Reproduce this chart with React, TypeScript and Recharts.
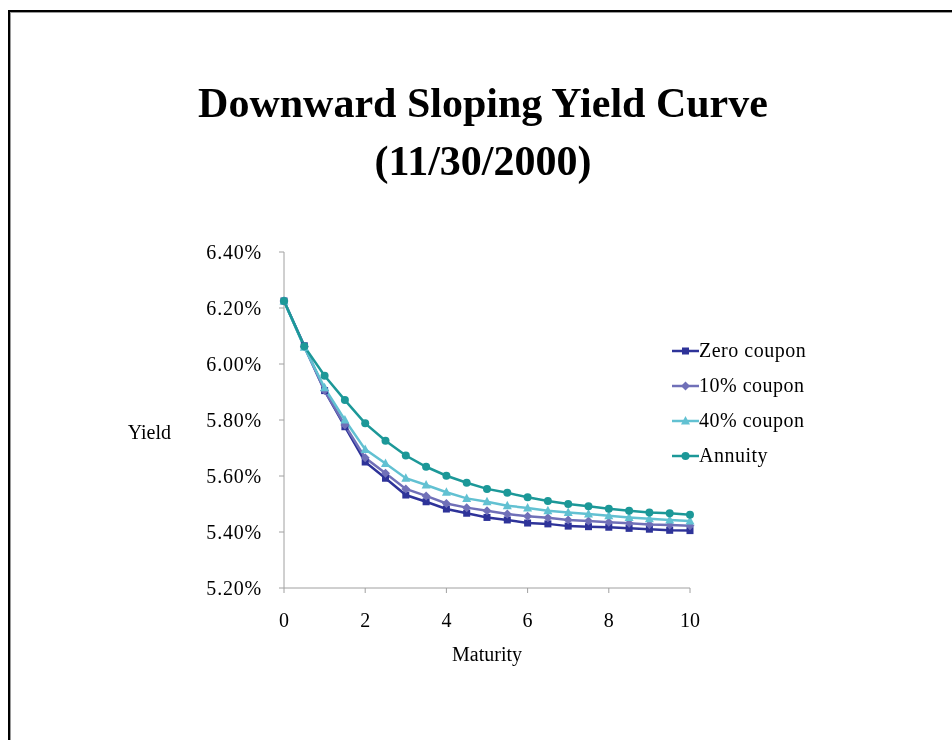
import React from "react";
import { LineChart, Line, XAxis, YAxis } from "recharts";

const maturity = [0, 0.5, 1, 1.5, 2, 2.5, 3, 3.5, 4, 4.5, 5, 5.5, 6, 6.5, 7, 7.5, 8, 8.5, 9, 9.5, 10];
const zeroCoupon = [6.225, 6.065, 5.905, 5.776, 5.65, 5.592, 5.532, 5.508, 5.482, 5.467, 5.452, 5.443, 5.432, 5.429, 5.421, 5.419, 5.417, 5.413, 5.41, 5.406, 5.405];
const tenCoupon = [6.225, 6.062, 5.905, 5.782, 5.665, 5.61, 5.554, 5.529, 5.502, 5.487, 5.476, 5.464, 5.456, 5.451, 5.443, 5.439, 5.435, 5.431, 5.427, 5.425, 5.422];
const fortyCoupon = [6.225, 6.06, 5.915, 5.8, 5.695, 5.645, 5.592, 5.568, 5.542, 5.52, 5.508, 5.494, 5.486, 5.476, 5.47, 5.464, 5.458, 5.452, 5.447, 5.443, 5.439];
const annuity = [6.225, 6.063, 5.958, 5.871, 5.788, 5.726, 5.673, 5.633, 5.601, 5.576, 5.554, 5.54, 5.524, 5.511, 5.5, 5.492, 5.483, 5.476, 5.47, 5.467, 5.462];

const yTicks = [5.2, 5.4, 5.6, 5.8, 6.0, 6.2, 6.4];
const xTicks = [0, 2, 4, 6, 8, 10];

const series = [
  { key: "zero", name: "Zero coupon", color: "#2e3399", shape: "square" },
  { key: "ten", name: "10% coupon", color: "#7070b8", shape: "diamond" },
  { key: "forty", name: "40% coupon", color: "#62c1d2", shape: "triangle" },
  { key: "annuity", name: "Annuity", color: "#1c9898", shape: "circle" },
];

const data = maturity.map((m, i) => ({
  m,
  zero: zeroCoupon[i],
  ten: tenCoupon[i],
  forty: fortyCoupon[i],
  annuity: annuity[i],
}));

const FONT = "'Liberation Serif', 'DejaVu Serif', serif";

function markerShape(shape: string, cx: number, cy: number, color: string) {
  if (shape === "square") {
    return <rect x={cx - 3.5} y={cy - 3.5} width={7} height={7} fill={color} />;
  }
  if (shape === "diamond") {
    return (
      <polygon
        points={`${cx},${cy - 4.5} ${cx + 4.5},${cy} ${cx},${cy + 4.5} ${cx - 4.5},${cy}`}
        fill={color}
      />
    );
  }
  if (shape === "triangle") {
    return (
      <polygon
        points={`${cx},${cy - 5} ${cx + 4.5},${cy + 3.5} ${cx - 4.5},${cy + 3.5}`}
        fill={color}
      />
    );
  }
  return <circle cx={cx} cy={cy} r={4} fill={color} />;
}

const makeDot = (shape: string, color: string) => (props: any) => {
  const { cx, cy, index } = props;
  if (cx == null || cy == null) return <g key={index} />;
  return <g key={index}>{markerShape(shape, cx, cy, color)}</g>;
};

const Legend = () => (
  <div style={{ position: "absolute", left: 664, top: 325, fontFamily: FONT, fontSize: 20, color: "#000" }}>
    {series.map((s) => (
      <div key={s.key} style={{ display: "flex", alignItems: "center", height: 35 }}>
        <svg width={27} height={12}>
          <line x1={0} y1={6} x2={27} y2={6} stroke={s.color} strokeWidth={2.5} />
          {markerShape(s.shape, 13.5, 6, s.color)}
        </svg>
        <span style={{ letterSpacing: 0.5 }}>{s.name}</span>
      </div>
    ))}
  </div>
);

export default function App() {
  return (
    <div style={{ position: "relative", width: 936, height: 724, fontFamily: FONT }}>
      <div
        style={{
          position: "fixed",
          left: 8,
          top: 10,
          right: -20,
          bottom: -20,
          borderTop: "2px solid #000",
          borderLeft: "2px solid #000",
        }}
      >
        <div
          style={{
            position: "absolute",
            left: 0,
            top: 0,
            right: 0,
            bottom: 0,
            borderTop: "1px solid #9a9a9a",
            borderLeft: "1px solid #9a9a9a",
          }}
        />
      </div>
      <div
        style={{
          position: "absolute",
          left: 0,
          top: 66,
          width: 950,
          textAlign: "center",
          fontSize: 42,
          fontWeight: "bold",
          lineHeight: "58px",
          color: "#000",
        }}
      >
        Downward Sloping Yield Curve
        <br />
        (11/30/2000)
      </div>
      <div style={{ position: "absolute", left: 0, top: 0 }}>
        <LineChart width={936} height={700} data={data} margin={{ top: 244, right: 254, bottom: 40, left: 196 }}>
          <XAxis
            dataKey="m"
            type="number"
            domain={[0, 10]}
            ticks={xTicks}
            stroke="#a0a0a0"
            tickSize={5}
            tickMargin={20}
            height={80}
            tick={{ fill: "#000", fontSize: 20, fontFamily: FONT }}
            label={{ value: "Maturity", position: "insideBottom", offset: 7, fill: "#000", fontSize: 20, fontFamily: FONT }}
          />
          <YAxis
            type="number"
            domain={[5.2, 6.4]}
            ticks={yTicks}
            stroke="#a0a0a0"
            tickSize={5}
            tickMargin={17}
            width={80}
            tickFormatter={(v: number) => v.toFixed(2) + "%"}
            tick={{ fill: "#000", fontSize: 20, fontFamily: FONT, letterSpacing: 0.8 }}
            label={{ value: "Yield", position: "left", offset: 33, dy: 12, fill: "#000", fontSize: 20, fontFamily: FONT }}
          />
          {series.map((s) => (
            <Line
              key={s.key}
              dataKey={s.key}
              name={s.name}
              type="linear"
              stroke={s.color}
              strokeWidth={2.5}
              dot={makeDot(s.shape, s.color)}
              activeDot={false}
              isAnimationActive={false}
            />
          ))}
        </LineChart>
      </div>
      <Legend />
    </div>
  );
}
